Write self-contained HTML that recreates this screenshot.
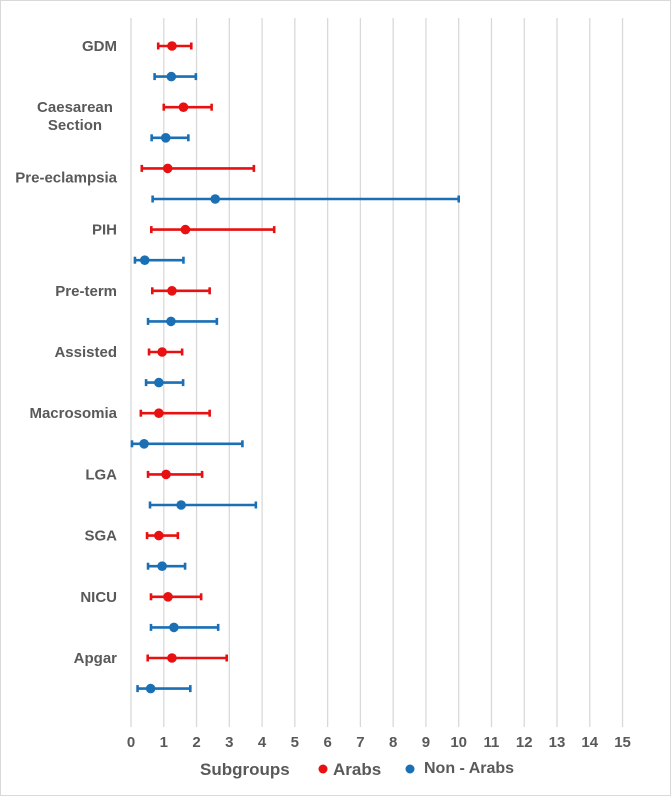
<!DOCTYPE html>
<html><head><meta charset="utf-8"><style>
html,body{margin:0;padding:0;background:#fff}
svg{display:block;font-family:"Liberation Sans",Arial,sans-serif}
</style></head><body>
<svg id="chart" width="671" height="796" viewBox="0 0 671 796">
<rect x="0.5" y="0.5" width="670" height="795" fill="#fff" stroke="#d9d9d9"/>
<g id="grid"></g><g id="labels"></g><g id="marks"></g><g id="ticks"></g>
<g font-weight="bold" font-size="17" fill="#595959">
<text x="200" y="775">Subgroups</text>
<circle cx="323" cy="769" r="4.5" fill="#e81010"/>
<text x="333" y="775">Arabs</text>
<circle cx="410" cy="769" r="4.5" fill="#1a6fb5"/>
<text x="424" y="773" font-size="16">Non - Arabs</text>
</g>
</svg>
<script>
const categories=["GDM","Caesarean Section","Pre-eclampsia","PIH","Pre-term","Assisted","Macrosomia","LGA","SGA","NICU","Apgar"];
const arabsPoint=[1.25,1.6,1.12,1.66,1.25,0.95,0.85,1.07,0.85,1.13,1.25];
const arabsLow=[0.83,1.0,0.33,0.62,0.65,0.55,0.3,0.52,0.49,0.61,0.51];
const arabsHigh=[1.84,2.46,3.75,4.37,2.4,1.56,2.4,2.17,1.43,2.14,2.92];
const nonPoint=[1.23,1.06,2.57,0.42,1.22,0.85,0.4,1.53,0.95,1.31,0.6];
const nonLow=[0.72,0.63,0.66,0.12,0.52,0.46,0.03,0.58,0.52,0.61,0.2];
const nonHigh=[1.98,1.75,10.0,1.6,2.62,1.59,3.4,3.81,1.65,2.66,1.81];
const xTicks=[0,1,2,3,4,5,6,7,8,9,10,11,12,13,14,15];
const NS='http://www.w3.org/2000/svg';
const x0=131,unit=32.77,rowTop=46,rowStep=30.6;
function xs(v){return x0+v*unit;}
function ys(i,s){return rowTop+(2*i+s)*rowStep;}
function mk(tag,attrs,parent){const e=document.createElementNS(NS,tag);for(const k in attrs)e.setAttribute(k,attrs[k]);parent.appendChild(e);return e;}
const grid=document.getElementById('grid'),ticks=document.getElementById('ticks'),labels=document.getElementById('labels'),marks=document.getElementById('marks');
xTicks.forEach(t=>{
 const l=mk('line',{x1:xs(t),x2:xs(t),y1:18,y2:727,stroke:'#d9d9d9','stroke-width':1.3},grid);
 
 
 const tx=mk('text',{x:xs(t),y:747,'text-anchor':'middle','font-size':15,'font-weight':'bold',fill:'#595959'},ticks);
 tx.textContent=t;
 
 
});
categories.forEach((c,i)=>{
 const g=mk('text',{x:117,'text-anchor':'end','font-size':15,'font-weight':'bold',fill:'#595959'},labels);
 
 
 if(c==="Caesarean Section"){
  g.setAttribute('text-anchor','middle');
  const a=mk('tspan',{x:75,y:ys(i,0)+5},g);a.textContent='Caesarean';
  const b=mk('tspan',{x:75,y:ys(i,0)+23},g);b.textContent='Section';
 } else {
  let y=ys(i,0)+5; if(c==="Pre-eclampsia") y=ys(i,0)+14;
  g.setAttribute('y',y); g.textContent=c;
 }
 [[arabsLow,arabsPoint,arabsHigh,'#e81010',0,'arabs'],[nonLow,nonPoint,nonHigh,'#1a6fb5',1,'non-arabs']].forEach(s=>{
  const y=ys(i,s[4]);
  const grp=mk('g',{},marks);
  
  
  mk('line',{x1:xs(s[0][i]),x2:xs(s[2][i]),y1:y,y2:y,stroke:s[3],'stroke-width':2.6},grp);
  mk('line',{x1:xs(s[0][i]),x2:xs(s[0][i]),y1:y-3.5,y2:y+3.5,stroke:s[3],'stroke-width':2.6},grp);
  mk('line',{x1:xs(s[2][i]),x2:xs(s[2][i]),y1:y-3.5,y2:y+3.5,stroke:s[3],'stroke-width':2.6},grp);
  mk('circle',{cx:xs(s[1][i]),cy:y,r:4.8,fill:s[3]},grp);
 });
});
</script>
</body></html>
